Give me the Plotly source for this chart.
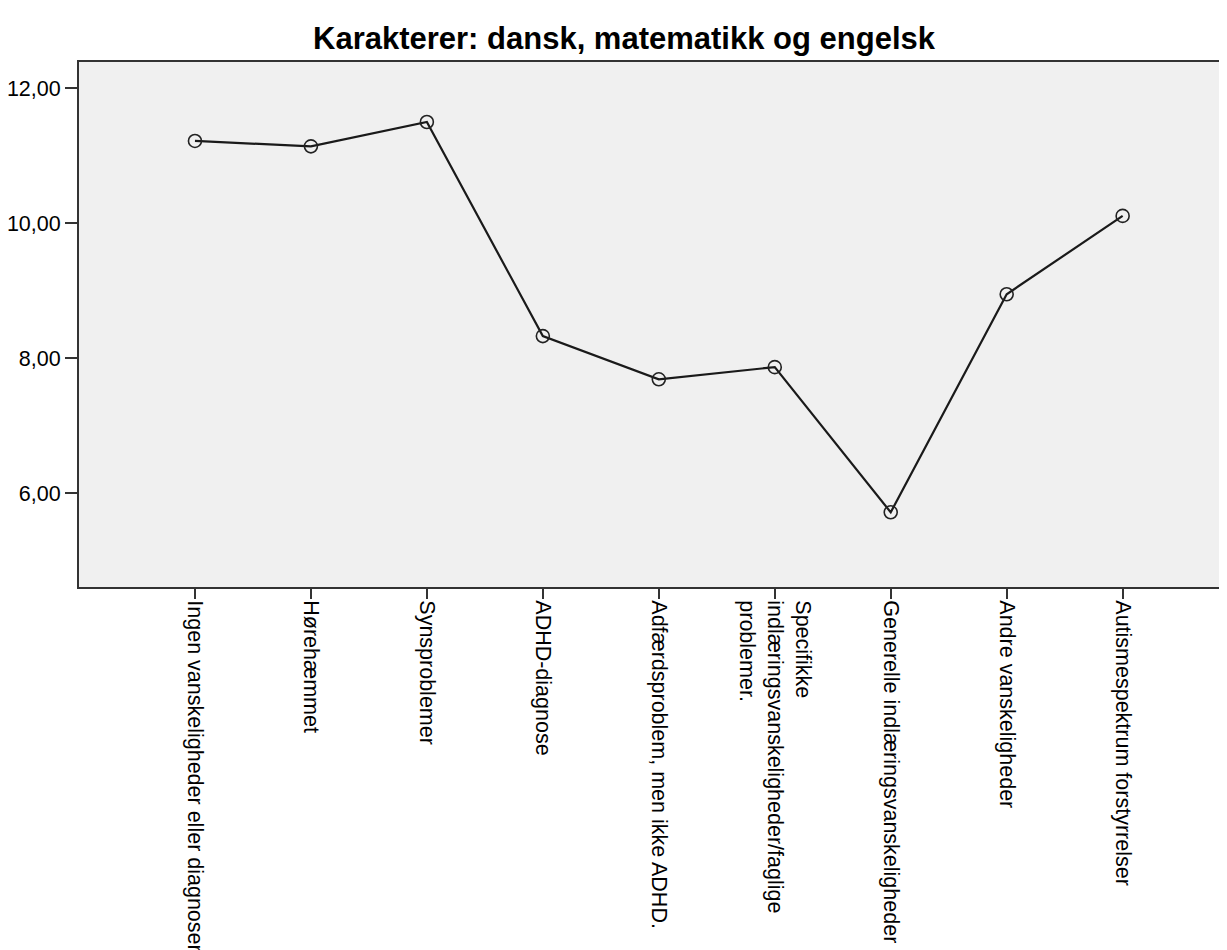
import plotly.graph_objects as go

categories = [
    "Ingen vanskeligheder eller diagnoser",
    "Hørehæmmet",
    "Synsproblemer",
    "ADHD-diagnose",
    "Adfærdsproblem, men ikke ADHD.",
    "Specifikke<br>indlæringsvanskeligheder/faglige<br>problemer.",
    "Generelle indlæringsvanskeligheder .",
    "Andre vanskeligheder",
    "Autismespektrum forstyrrelser",
]
values = [11.22, 11.14, 11.50, 8.33, 7.69, 7.87, 5.72, 8.95, 10.11]
y_tickvals = [6, 8, 10, 12]
y_ticktext = ["6,00", "8,00", "10,00", "12,00"]
title_text = "Karakterer: dansk, matematikk og engelsk"

FONT = "Liberation Sans, Arial, sans-serif"
AXIS = "#333333"

# page body has a default 8px margin, so the figure is sized to fit the window
W, H = 1219, 942

fig = go.Figure()
fig.add_trace(go.Scatter(
    x=categories,
    y=values,
    mode="lines+markers",
    line=dict(color="#1a1a1a", width=2.2),
    marker=dict(symbol="circle-open", size=13, color="#222222",
                line=dict(width=1.6, color="#222222")),
    showlegend=False,
    hoverinfo="x+y",
))

fig.update_layout(
    width=W,
    height=H,
    margin=dict(l=71, r=0, t=54, b=363, autoexpand=False),
    paper_bgcolor="white",
    plot_bgcolor="#f0f0f0",
    font=dict(family=FONT, size=21.5, color="black"),
    title=dict(
        text="<b>" + title_text + "</b>",
        x=616 / W, xanchor="center", xref="container",
        y=1 - 30 / H, yanchor="middle", yref="container",
        font=dict(family=FONT, size=31, color="black"),
    ),
)

fig.update_xaxes(
    type="category",
    range=[-1, 8.9],
    showgrid=False,
    zeroline=False,
    showline=True,
    linecolor=AXIS,
    linewidth=2,
    mirror=True,
    ticks="outside",
    ticklen=10,
    tickwidth=2,
    tickcolor=AXIS,
    tickangle=90,
    ticklabelstandoff=-3,
    tickfont=dict(family=FONT, size=21.5, color="black"),
    automargin=False,
)

fig.update_yaxes(
    range=[4.614, 12.389],
    tickvals=y_tickvals,
    ticktext=y_ticktext,
    showgrid=False,
    zeroline=False,
    showline=True,
    linecolor=AXIS,
    linewidth=2,
    mirror=False,
    ticks="outside",
    ticklen=12,
    tickwidth=2,
    tickcolor=AXIS,
    ticklabelstandoff=0,
    tickfont=dict(family=FONT, size=21.5, color="black"),
    automargin=False,
)

fig.write_html("out.html")
